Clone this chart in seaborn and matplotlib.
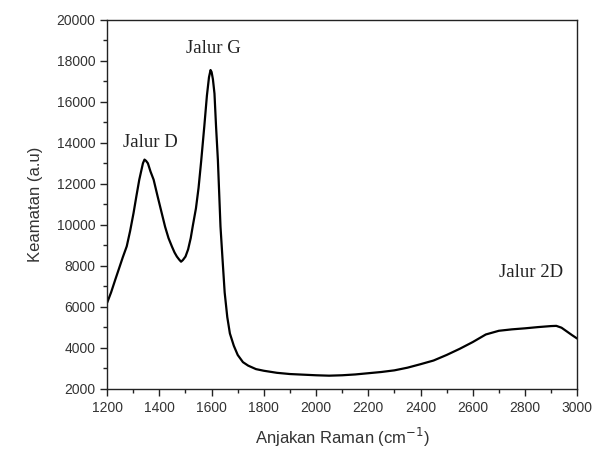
import pandas as pd
import seaborn as sns
import matplotlib.pyplot as plt

# Raman spectrum
wavenumber = [1200, 1215, 1231, 1245, 1260, 1275, 1288, 1301, 1312, 1323,
              1337, 1343, 1349, 1356, 1366, 1378, 1393, 1409, 1422, 1435,
              1448, 1458, 1467, 1476, 1483, 1490, 1500, 1510, 1520, 1528,
              1540, 1550, 1560, 1566, 1572, 1582, 1590, 1596, 1600, 1605,
              1611, 1617, 1624, 1629, 1634, 1642, 1650, 1660, 1670, 1685,
              1700, 1720, 1740, 1770, 1800, 1850, 1900, 1950, 2000, 2050,
              2100, 2150, 2200, 2250, 2300, 2350, 2400, 2450, 2500, 2550,
              2600, 2650, 2700, 2750, 2800, 2850, 2900, 2920, 2940, 2960,
              2980, 3000]
intensity = [6200, 6700, 7320, 7850, 8420, 8950, 9700, 10570, 11400, 12200,
             13000, 13180, 13120, 13000, 12600, 12200, 11400, 10570, 9900, 9350,
             8940, 8650, 8450, 8300, 8200, 8280, 8450, 8800, 9350, 9950,
             10800, 11800, 13100, 13950, 14800, 16300, 17200, 17550, 17450, 17100,
             16400, 14800, 13170, 11550, 9920, 8290, 6700, 5500, 4700, 4100,
             3650, 3300, 3130, 2960, 2880, 2780, 2720, 2690, 2660, 2640,
             2660, 2700, 2760, 2820, 2900, 3030, 3200, 3380, 3650, 3950,
             4280, 4650, 4830, 4900, 4950, 5010, 5060, 5070, 4980, 4800,
             4620, 4450]

peak_names = ["Jalur D", "Jalur G", "Jalur 2D"]
peak_label_x = [1365, 1606, 2824]
peak_label_y = [14000, 18600, 7650]

sns.set_style("ticks")
plt.rcParams["font.family"] = ["Liberation Sans", "DejaVu Sans"]

df = pd.DataFrame({"wavenumber": wavenumber, "intensity": intensity})

fig, ax = plt.subplots(figsize=(5.92, 4.5), dpi=100)
fig.subplots_adjust(left=0.181, right=0.975, bottom=0.136, top=0.956)

sns.lineplot(data=df, x="wavenumber", y="intensity", color="black",
             linewidth=1.6, ax=ax)

for name, px, py in zip(peak_names, peak_label_x, peak_label_y):
    ax.text(px, py, name, ha="center", va="center", fontsize=13.5,
            family=["Liberation Serif", "DejaVu Serif"], color="#222222")

ax.set_xlim(1200, 3000)
ax.set_ylim(2000, 20000)
ax.set_xticks(range(1200, 3001, 200))
ax.set_xticks(range(1300, 3000, 200), minor=True)
ax.set_yticks(range(2000, 20001, 2000))
ax.set_yticks(range(3000, 20000, 2000), minor=True)

for side in ["top", "right", "left", "bottom"]:
    ax.spines[side].set_visible(True)
    ax.spines[side].set_linewidth(1.0)
    ax.spines[side].set_color("#222222")

ax.tick_params(which="major", direction="out", length=5, width=1,
               labelsize=10, labelcolor="#333333", color="#222222",
               top=False, right=False)
ax.tick_params(which="minor", direction="out", length=3, width=1,
               color="#222222", top=False, right=False)

ax.set_xlabel("Anjakan Raman (cm$^{-1}$)", fontsize=12, color="#333333", labelpad=8)
ax.set_ylabel("Keamatan (a.u)", fontsize=12, color="#333333", labelpad=10)

plt.savefig("out.png", dpi=100)
